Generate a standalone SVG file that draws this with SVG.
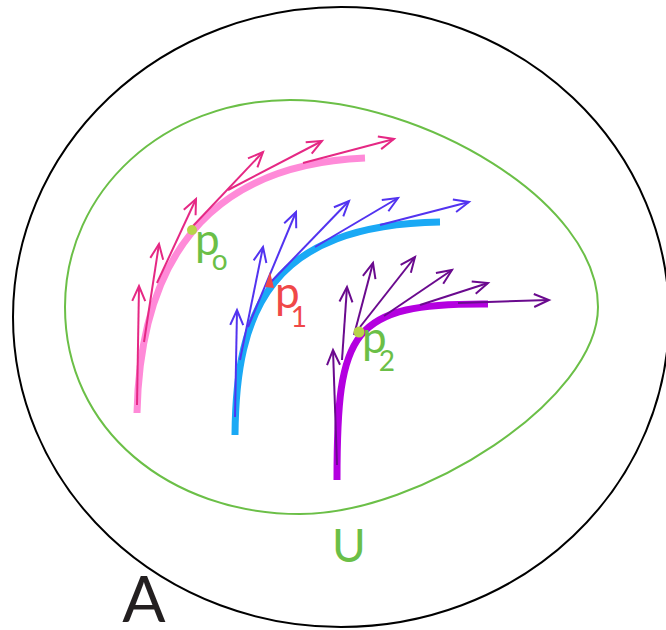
<svg xmlns="http://www.w3.org/2000/svg" width="666" height="630" viewBox="0 0 666 630">
<style>
.lbl{font-family:Lato,"Open Sans","DejaVu Sans",sans-serif}
.g{fill:#6bbf47}
.thick{fill:none;stroke-width:7;stroke-linecap:butt}
.arr{fill:none;stroke-width:2}
.pk{stroke:#e52884}
.bl{stroke:#5233f0}
.pu{stroke:#6a0a8e}
.dot{fill:#b7d448}
</style>
<defs>
<marker id="mPk" markerUnits="userSpaceOnUse" orient="auto" markerWidth="20" markerHeight="20" viewBox="-16 -10 20 20" refX="0" refY="0" overflow="visible"><path d="M-15,-6.5 L0,0 L-15,6.5" fill="none" stroke="#e52884" stroke-width="2"/></marker>
<marker id="mBl" markerUnits="userSpaceOnUse" orient="auto" markerWidth="20" markerHeight="20" viewBox="-16 -10 20 20" refX="0" refY="0" overflow="visible"><path d="M-15,-6.5 L0,0 L-15,6.5" fill="none" stroke="#5233f0" stroke-width="2"/></marker>
<marker id="mPu" markerUnits="userSpaceOnUse" orient="auto" markerWidth="20" markerHeight="20" viewBox="-16 -10 20 20" refX="0" refY="0" overflow="visible"><path d="M-15,-6.5 L0,0 L-15,6.5" fill="none" stroke="#6a0a8e" stroke-width="2"/></marker>
</defs>
<rect width="666" height="630" fill="#ffffff"/>
<g id="setA">
<ellipse cx="341" cy="317" rx="328" ry="310" fill="none" stroke="#000" stroke-width="2"/>
<text class="lbl" x="144" y="622" font-size="64" text-anchor="middle" fill="#231f20">A</text>
</g>
<g id="setU">
<path d="M65,307 C65,190 165,100 290,100 C420,100 598,200 598,307 C598,400 420,514 300,514 C170,514 65,430 65,307 Z" fill="none" stroke="#6bbf47" stroke-width="2"/>
<text class="lbl g" x="349" y="562" font-size="46" text-anchor="middle">U</text>
</g>
<g id="curve-p0">
<path class="thick" d="M137,413 C140,270 200,165 365,158" stroke="#ff8ad8"/>
</g>
<g id="curve-p1">
<path class="thick" d="M235,435 C236,310 270,225 440,222" stroke="#1aa9f5"/>
</g>
<g id="curve-p2">
<path class="thick" d="M337,480 C337,330 350,303 488,304" stroke="#b400e0"/>
</g>
<g id="connectors">
<g class="arr pk">
<line x1="137" y1="405" x2="139" y2="286" marker-end="url(#mPk)"/>
<line x1="144" y1="342" x2="159" y2="244" marker-end="url(#mPk)"/>
<line x1="157" y1="283" x2="196" y2="199" marker-end="url(#mPk)"/>
<line x1="193" y1="226" x2="263" y2="152" marker-end="url(#mPk)"/>
<line x1="228" y1="190" x2="322" y2="141" marker-end="url(#mPk)"/>
<line x1="303" y1="163" x2="394" y2="139" marker-end="url(#mPk)"/>
</g>
<g class="arr bl">
<line x1="235" y1="417" x2="237" y2="310" marker-end="url(#mBl)"/>
<line x1="240" y1="360" x2="263" y2="247" marker-end="url(#mBl)"/>
<line x1="248" y1="327" x2="296" y2="212" marker-end="url(#mBl)"/>
<line x1="268" y1="285" x2="349" y2="201" marker-end="url(#mBl)"/>
<line x1="315" y1="247" x2="398" y2="198" marker-end="url(#mBl)"/>
<line x1="380" y1="225" x2="469" y2="202" marker-end="url(#mBl)"/>
</g>
<g class="arr pu">
<line x1="337" y1="465" x2="333" y2="350" marker-end="url(#mPu)"/>
<line x1="342" y1="360" x2="347" y2="287" marker-end="url(#mPu)"/>
<line x1="354" y1="335" x2="373" y2="263" marker-end="url(#mPu)"/>
<line x1="360" y1="327" x2="415" y2="257" marker-end="url(#mPu)"/>
<line x1="384" y1="316" x2="452" y2="270" marker-end="url(#mPu)"/>
<line x1="420" y1="305" x2="488" y2="283" marker-end="url(#mPu)"/>
<line x1="458" y1="303" x2="549" y2="300" marker-end="url(#mPu)"/>
</g>
</g>
<g id="p0">
<circle class="dot" cx="192" cy="230" r="5"/>
<text class="lbl g" x="195" y="255" font-size="44">p<tspan dx="-8" dy="15" font-size="28">o</tspan></text>
</g>
<g id="p1">
<path d="M265,287 L270,272 L274,288 Z" fill="#f04848"/>
<text class="lbl" x="275" y="308" font-size="44" fill="#f04848">p<tspan dx="-9" dy="19" font-size="28">1</tspan></text>
</g>
<g id="p2">
<circle class="dot" cx="359" cy="332" r="5.5"/>
<text class="lbl g" x="362" y="353" font-size="44">p<tspan dx="-8" dy="18" font-size="28">2</tspan></text>
</g>
</svg>
